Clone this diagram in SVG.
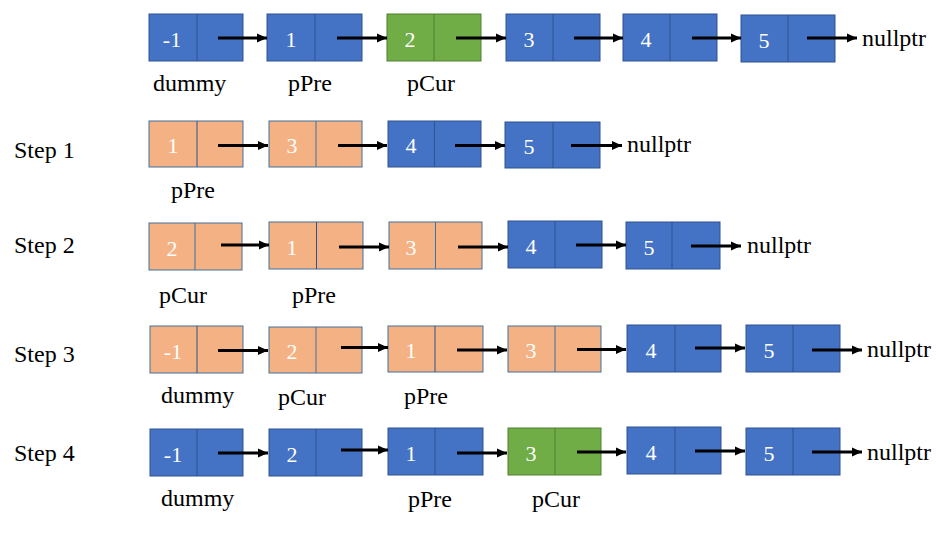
<svg xmlns="http://www.w3.org/2000/svg" width="941" height="534" viewBox="0 0 941 534">
<style>
.bl{fill:#4472C4;stroke:#2F528F;stroke-width:1}
.or{fill:#F4B183;stroke:#41719C;stroke-width:1}
.gr{fill:#70AD47;stroke:#507E32;stroke-width:1}
.dvb{stroke:#2F528F;stroke-width:1}
.dvo{stroke:#41719C;stroke-width:1}
.dvg{stroke:#507E32;stroke-width:1}
.v{font-size:22px;fill:#fff;text-anchor:middle}
.t{font-size:24px;fill:#000}
.a{stroke:#000;stroke-width:3;fill:none;marker-end:url(#ah)}
</style>
<defs>
<marker id="ah" viewBox="0 0 10 10" refX="10" refY="5" markerWidth="10" markerHeight="10" markerUnits="userSpaceOnUse" orient="auto">
<path d="M0,0.5 L10,5 L0,9.5 z" fill="#000"/>
</marker>
</defs>
<rect width="941" height="534" fill="#fff"/>

<g font-family="'Liberation Serif', 'DejaVu Serif', 'Times New Roman', serif">
<!-- Row 0 -->
<g id="r0n1"><rect class="bl" x="149" y="14" width="94" height="47"/><line class="dvb" x1="197" y1="14" x2="197" y2="61"/><text class="v" x="172" y="47">-1</text></g>
<g id="r0n2"><rect class="bl" x="267" y="14" width="95" height="47"/><line class="dvb" x1="315" y1="14" x2="315" y2="61"/><text class="v" x="291" y="47">1</text></g>
<g id="r0n3"><rect class="gr" x="387" y="14" width="94" height="47"/><line class="dvg" x1="434" y1="14" x2="434" y2="61"/><text class="v" x="410" y="47">2</text></g>
<g id="r0n4"><rect class="bl" x="506" y="14" width="94" height="47"/><line class="dvb" x1="553" y1="14" x2="553" y2="61"/><text class="v" x="529" y="47">3</text></g>
<g id="r0n5"><rect class="bl" x="623" y="14" width="94" height="47"/><line class="dvb" x1="670" y1="14" x2="670" y2="61"/><text class="v" x="646" y="47">4</text></g>
<g id="r0n6"><rect class="bl" x="741" y="15" width="94" height="47"/><line class="dvb" x1="788" y1="15" x2="788" y2="62"/><text class="v" x="764" y="48">5</text></g>

<!-- Row 1 -->
<g id="r1n1"><rect class="or" x="149" y="121" width="94" height="46"/><line class="dvb" x1="197" y1="121" x2="197" y2="167"/><text class="v" x="173" y="153">1</text></g>
<g id="r1n2"><rect class="or" x="269" y="121" width="93" height="46"/><line class="dvo" x1="316" y1="121" x2="316" y2="167"/><text class="v" x="292" y="153">3</text></g>
<g id="r1n3"><rect class="bl" x="388" y="121" width="93" height="46"/><line class="dvb" x1="434.5" y1="121" x2="434.5" y2="167"/><text class="v" x="411" y="153">4</text></g>
<g id="r1n4"><rect class="bl" x="505" y="122" width="95" height="46"/><line class="dvb" x1="553" y1="122" x2="553" y2="168"/><text class="v" x="529" y="154">5</text></g>

<!-- Row 2 -->
<g id="r2n1"><rect class="or" x="149" y="223" width="93" height="47"/><line class="dvo" x1="195" y1="223" x2="195" y2="270"/><text class="v" x="172" y="256">2</text></g>
<g id="r2n2"><rect class="or" x="269" y="222" width="94" height="47"/><line class="dvb" x1="316.5" y1="222" x2="316.5" y2="269"/><text class="v" x="292" y="255">1</text></g>
<g id="r2n3"><rect class="or" x="389" y="222" width="93" height="47"/><line class="dvo" x1="435.5" y1="222" x2="435.5" y2="269"/><text class="v" x="411" y="255">3</text></g>
<g id="r2n4"><rect class="bl" x="508" y="221" width="94" height="47"/><line class="dvb" x1="555" y1="221" x2="555" y2="268"/><text class="v" x="531" y="254">4</text></g>
<g id="r2n5"><rect class="bl" x="626" y="222" width="94" height="47"/><line class="dvb" x1="672" y1="222" x2="672" y2="269"/><text class="v" x="649" y="255">5</text></g>

<!-- Row 3 -->
<g id="r3n1"><rect class="or" x="150" y="326" width="93" height="47"/><line class="dvb" x1="197" y1="326" x2="197" y2="373"/><text class="v" x="173" y="359">-1</text></g>
<g id="r3n2"><rect class="or" x="269" y="327" width="93" height="46"/><line class="dvo" x1="316" y1="327" x2="316" y2="373"/><text class="v" x="292" y="359">2</text></g>
<g id="r3n3"><rect class="or" x="388" y="326" width="95" height="46"/><line class="dvb" x1="435" y1="326" x2="435" y2="372"/><text class="v" x="411" y="358">1</text></g>
<g id="r3n4"><rect class="or" x="508" y="326" width="93" height="46"/><line class="dvo" x1="555" y1="326" x2="555" y2="372"/><text class="v" x="531" y="358">3</text></g>
<g id="r3n5"><rect class="bl" x="627" y="325" width="94" height="47"/><line class="dvb" x1="675" y1="325" x2="675" y2="372"/><text class="v" x="651" y="358">4</text></g>
<g id="r3n6"><rect class="bl" x="746" y="325" width="94" height="47"/><line class="dvb" x1="793" y1="325" x2="793" y2="372"/><text class="v" x="769" y="358">5</text></g>

<!-- Row 4 -->
<g id="r4n1"><rect class="bl" x="150" y="429" width="93" height="47"/><line class="dvb" x1="197" y1="429" x2="197" y2="476"/><text class="v" x="173" y="462">-1</text></g>
<g id="r4n2"><rect class="bl" x="269" y="429" width="93" height="47"/><line class="dvb" x1="316" y1="429" x2="316" y2="476"/><text class="v" x="292" y="462">2</text></g>
<g id="r4n3"><rect class="bl" x="388" y="428" width="95" height="47"/><line class="dvb" x1="435" y1="428" x2="435" y2="475"/><text class="v" x="411" y="461">1</text></g>
<g id="r4n4"><rect class="gr" x="508" y="428" width="93" height="47"/><line class="dvg" x1="555" y1="428" x2="555" y2="475"/><text class="v" x="531" y="461">3</text></g>
<g id="r4n5"><rect class="bl" x="627" y="427" width="94" height="47"/><line class="dvb" x1="675" y1="427" x2="675" y2="474"/><text class="v" x="651" y="460">4</text></g>
<g id="r4n6"><rect class="bl" x="746" y="428" width="94" height="47"/><line class="dvb" x1="793" y1="428" x2="793" y2="475"/><text class="v" x="769" y="461">5</text></g>

<g id="labels">
<text class="t" x="862" y="46">nullptr</text>
<text class="t" x="153" y="91">dummy</text>
<text class="t" x="288" y="91">pPre</text>
<text class="t" x="407" y="91">pCur</text>

<text class="t" x="14" y="158">Step 1</text>
<text class="t" x="627" y="152">nullptr</text>
<text class="t" x="171" y="198">pPre</text>

<text class="t" x="14" y="253">Step 2</text>
<text class="t" x="747" y="253">nullptr</text>
<text class="t" x="159" y="303">pCur</text>
<text class="t" x="292" y="303">pPre</text>

<text class="t" x="14" y="362">Step 3</text>
<text class="t" x="867" y="357">nullptr</text>
<text class="t" x="161" y="403">dummy</text>
<text class="t" x="278" y="405">pCur</text>
<text class="t" x="404" y="404">pPre</text>

<text class="t" x="14" y="461">Step 4</text>
<text class="t" x="867" y="460">nullptr</text>
<text class="t" x="161" y="506">dummy</text>
<text class="t" x="408" y="507">pPre</text>
<text class="t" x="532" y="507">pCur</text>
</g>
</g>

<g id="connectors">
<line class="a" x1="218" y1="38" x2="267" y2="38"/>
<line class="a" x1="337" y1="38" x2="387" y2="38"/>
<line class="a" x1="456" y1="38" x2="506" y2="38"/>
<line class="a" x1="574" y1="38" x2="623" y2="38"/>
<line class="a" x1="692" y1="38" x2="741" y2="38"/>
<line class="a" x1="807" y1="38" x2="857" y2="38"/>

<line class="a" x1="218" y1="145.5" x2="268" y2="145.5"/>
<line class="a" x1="338" y1="145.5" x2="387" y2="145.5"/>
<line class="a" x1="455" y1="145.5" x2="505" y2="145.5"/>
<line class="a" x1="571" y1="145.5" x2="622" y2="145.5"/>

<line class="a" x1="221" y1="245" x2="269" y2="245"/>
<line class="a" x1="339" y1="247" x2="389" y2="247"/>
<line class="a" x1="458" y1="247" x2="508" y2="247"/>
<line class="a" x1="576" y1="245" x2="626" y2="245"/>
<line class="a" x1="691" y1="246" x2="741" y2="246"/>

<line class="a" x1="218" y1="350.5" x2="268" y2="350.5"/>
<line class="a" x1="341" y1="347.5" x2="388" y2="347.5"/>
<line class="a" x1="457" y1="350" x2="507" y2="350"/>
<line class="a" x1="577" y1="349.5" x2="626" y2="349.5"/>
<line class="a" x1="695" y1="348" x2="745" y2="348"/>
<line class="a" x1="812" y1="350" x2="862" y2="350"/>

<line class="a" x1="218" y1="453" x2="268" y2="453"/>
<line class="a" x1="341" y1="450" x2="388" y2="450"/>
<line class="a" x1="457" y1="453" x2="507" y2="453"/>
<line class="a" x1="577" y1="452" x2="626" y2="452"/>
<line class="a" x1="695" y1="451" x2="745" y2="451"/>
<line class="a" x1="812" y1="452" x2="862" y2="452"/>
</g>
</svg>
